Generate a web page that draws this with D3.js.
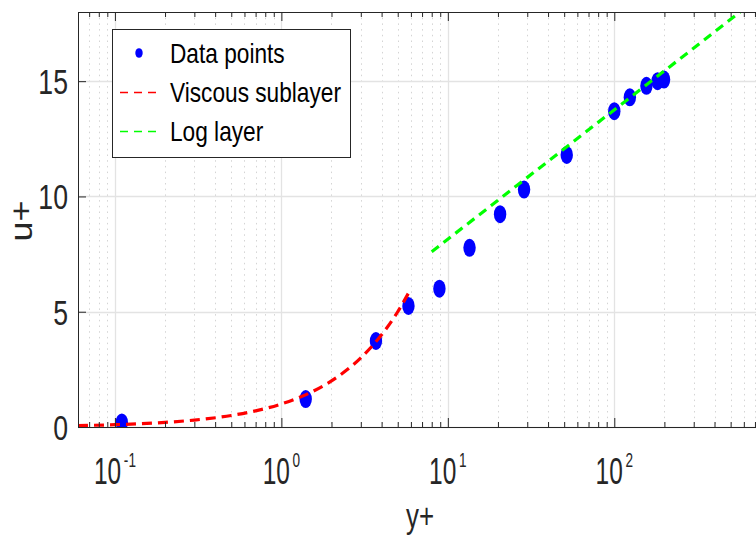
<!DOCTYPE html>
<html>
<head>
<meta charset="utf-8">
<script src="https://cdn.jsdelivr.net/npm/d3@7"></script>
<style>
  body { margin: 0; background: #fff; }
  svg { display: block; font-family: "Liberation Sans", Arial, sans-serif; }
</style>
</head>
<body>
<svg id="chart" width="756" height="540"></svg>
<script>
// data points (y+, u+)
const dataYPlus = [0.11, 1.4, 3.7, 5.8, 8.9, 13.5, 20.6, 28.7, 51.8, 100, 124, 156, 182, 199];
const dataUPlus = [0.2, 1.21, 3.73, 5.25, 6.0, 7.77, 9.23, 10.3, 11.8, 13.7, 14.3, 14.8, 15.0, 15.07];

// viscous sublayer curve
const viscousYPlus = [0.06, 0.1, 0.2, 0.3, 0.5, 0.7, 1, 1.5, 2, 3, 4, 5, 6];
const viscousUPlus = [0.06, 0.1, 0.2, 0.3, 0.5, 0.7, 1, 1.5, 2, 3, 4, 5, 6];

// log layer line (straight on log x), ends where it leaves the top
const logYPlus = [8, 570];
const logUPlus = [7.6, 18];

const xMajorTicks = [0.1, 1, 10, 100];
const xTickExponents = ["-1", "0", "1", "2"];
const yTicks = [0, 5, 10, 15];
const legendLabels = ["Data points", "Viscous sublayer", "Log layer"];

const ink = "#262626";
const plot = { left: 78, right: 757, top: 12, bottom: 427 };

const svg = d3.select("#chart");

const xScale = d3.scaleLog().domain([0.06, 720]).range([plot.left, plot.right]);
const yScale = d3.scaleLinear().domain([0, 18]).range([plot.bottom, plot.top]);

const xMinorTicks = xScale.ticks().filter((t) => !xMajorTicks.includes(t));

// grid
const grid = svg.append("g");
grid.selectAll(".minor")
  .data(xMinorTicks)
  .join("line")
  .attr("x1", (d) => Math.round(xScale(d)) + 0.5)
  .attr("x2", (d) => Math.round(xScale(d)) + 0.5)
  .attr("y1", plot.top)
  .attr("y2", plot.bottom)
  .attr("stroke", "#d4d4d4")
  .attr("stroke-dasharray", "1.5,4.2");

grid.selectAll(".majorx")
  .data(xMajorTicks)
  .join("line")
  .attr("x1", (d) => Math.round(xScale(d)) + 0.5)
  .attr("x2", (d) => Math.round(xScale(d)) + 0.5)
  .attr("y1", plot.top)
  .attr("y2", plot.bottom)
  .attr("stroke", "#e3e3e3")
  .attr("stroke-width", 1.3);

grid.selectAll(".majory")
  .data(yTicks)
  .join("line")
  .attr("x1", plot.left)
  .attr("x2", plot.right)
  .attr("y1", (d) => Math.round(yScale(d)) + 0.5)
  .attr("y2", (d) => Math.round(yScale(d)) + 0.5)
  .attr("stroke", "#e3e3e3")
  .attr("stroke-width", 1.3);

// clip to axes box
svg.append("clipPath")
  .attr("id", "clip")
  .append("rect")
  .attr("x", plot.left)
  .attr("y", plot.top)
  .attr("width", plot.right - plot.left)
  .attr("height", plot.bottom - plot.top);

const container = svg.append("g").attr("clip-path", "url(#clip)");

const points = dataYPlus.map((y, i) => ({ y: y, u: dataUPlus[i] }));
container.selectAll("ellipse")
  .data(points)
  .join("ellipse")
  .attr("cx", (d) => xScale(d.y))
  .attr("cy", (d) => yScale(d.u))
  .attr("rx", 6.2)
  .attr("ry", 9)
  .attr("fill", "#0000ff");

const line = d3.line()
  .x((d) => xScale(d.y))
  .y((d) => yScale(d.u))
  .curve(d3.curveMonotoneX);

container.append("path")
  .datum(viscousYPlus.map((y, i) => ({ y: y, u: viscousUPlus[i] })))
  .attr("d", line)
  .attr("fill", "none")
  .attr("stroke", "#ff0000")
  .attr("stroke-width", 3.2)
  .attr("stroke-dasharray", "10,6");

container.append("path")
  .datum(logYPlus.map((y, i) => ({ y: y, u: logUPlus[i] })))
  .attr("d", line)
  .attr("fill", "none")
  .attr("stroke", "#00ff00")
  .attr("stroke-width", 3.2)
  .attr("stroke-dasharray", "9,6");

// axes, ticks pointing inward
function styleAxis(g) {
  g.selectAll("path, line").attr("stroke", ink);
  g.selectAll("text").remove();
}

svg.append("g")
  .attr("transform", `translate(0, ${plot.bottom})`)
  .call(d3.axisBottom(xScale).tickValues(xMinorTicks).tickSize(-5).tickSizeOuter(0).tickFormat(""))
  .call(styleAxis);
svg.append("g")
  .attr("transform", `translate(0, ${plot.bottom})`)
  .call(d3.axisBottom(xScale).tickValues(xMajorTicks).tickSize(-9).tickSizeOuter(0).tickFormat(""))
  .call(styleAxis);
svg.append("g")
  .attr("transform", `translate(0, ${plot.top})`)
  .call(d3.axisTop(xScale).tickValues(xMinorTicks).tickSize(-5).tickSizeOuter(0).tickFormat(""))
  .call(styleAxis);
svg.append("g")
  .attr("transform", `translate(0, ${plot.top})`)
  .call(d3.axisTop(xScale).tickValues(xMajorTicks).tickSize(-9).tickSizeOuter(0).tickFormat(""))
  .call(styleAxis);
svg.append("g")
  .attr("transform", `translate(${plot.left}, 0)`)
  .call(d3.axisLeft(yScale).tickValues(yTicks).tickSize(-8).tickSizeOuter(0).tickFormat(""))
  .call(styleAxis);

// tick labels (narrow type, squeezed horizontally)
svg.selectAll(".ylab")
  .data(yTicks)
  .join("text")
  .attr("transform", (d) => `translate(68, ${yScale(d)}) scale(0.74, 1)`)
  .attr("text-anchor", "end")
  .attr("dy", "0.36em")
  .attr("font-size", 36)
  .attr("fill", ink)
  .text((d) => d);

const xLabels = svg.selectAll(".xlab")
  .data(xMajorTicks)
  .join("text")
  .attr("transform", (d) => `translate(${xScale(d)}, 484) scale(0.68, 1)`)
  .attr("text-anchor", "middle")
  .attr("font-size", 36)
  .attr("fill", ink);
xLabels.append("tspan").text("10");
xLabels.append("tspan")
  .attr("dx", 4)
  .attr("dy", -17)
  .attr("font-size", 20)
  .text((d, i) => xTickExponents[i]);

svg.append("text")
  .attr("transform", "translate(420, 528) scale(0.72, 1)")
  .attr("text-anchor", "middle")
  .attr("font-size", 36)
  .attr("fill", ink)
  .text("y+");

svg.append("text")
  .attr("transform", "translate(32, 221) scale(0.85, 1) rotate(-90)")
  .attr("text-anchor", "middle")
  .attr("font-size", 36)
  .attr("fill", ink)
  .text("u+");

// legend
const legend = svg.append("g");
legend.append("rect")
  .attr("x", 112.5)
  .attr("y", 29.5)
  .attr("width", 238)
  .attr("height", 128)
  .attr("fill", "#fff")
  .attr("stroke", ink);

const rowY = [53, 92, 131];
legend.append("ellipse")
  .attr("cx", 139)
  .attr("cy", rowY[0])
  .attr("rx", 3.7)
  .attr("ry", 4.8)
  .attr("fill", "#0000ff");
legend.selectAll(".swatch")
  .data(["#ff0000", "#00ff00"])
  .join("line")
  .attr("x1", 120)
  .attr("x2", 157)
  .attr("y1", (d, i) => rowY[i + 1] + 0.5)
  .attr("y2", (d, i) => rowY[i + 1] + 0.5)
  .attr("stroke", (d) => d)
  .attr("stroke-width", 1.4)
  .attr("stroke-dasharray", "8,6");
legend.selectAll(".label")
  .data(legendLabels)
  .join("text")
  .attr("transform", (d, i) => `translate(170, ${rowY[i] + 10}) scale(0.81, 1)`)
  .attr("font-size", 28)
  .attr("fill", "#000")
  .text((d) => d);
</script>
</body>
</html>
